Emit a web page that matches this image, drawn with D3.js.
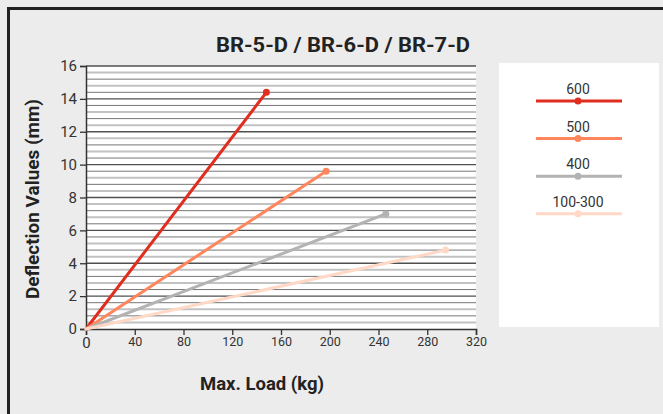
<!DOCTYPE html>
<html><head><meta charset="utf-8">
<script src="https://cdn.jsdelivr.net/npm/d3@7"></script>
<style>
html,body{margin:0;padding:0;background:#ebeceb;}
svg{display:block;font-family:Roboto, "Noto Sans", sans-serif;}
</style></head>
<body><svg id="c" width="663" height="414"></svg>
<script>
const seriesNames = ["600", "500", "400", "100-300"];
const seriesColors = ["#e02d1e", "#ff865c", "#b3b3b3", "#ffd8c6"];
const loads = [[0, 148], [0, 197], [0, 246], [0, 295]];
const deflections = [[0, 14.4], [0, 9.6], [0, 7.0], [0, 4.8]];
const xTicks = [0, 40, 80, 120, 160, 200, 240, 280, 320];
const yTicks = [0, 2, 4, 6, 8, 10, 12, 14, 16];
const titleText = "BR-5-D / BR-6-D / BR-7-D";
const xTitle = "Max. Load (kg)";
const yTitle = "Deflection Values (mm)";

const svg = d3.select("#c");
// frame
svg.append("rect").attr("x",7).attr("y",7).attr("width",663).attr("height",3).attr("fill","#222");
svg.append("rect").attr("x",7).attr("y",7).attr("width",3).attr("height",414).attr("fill","#222");

const L = 86, R = 476, T = 66, B = 329;
const x = d3.scaleLinear().domain([0,320]).range([L,R]);
const y = d3.scaleLinear().domain([0,16]).range([B,T]);

svg.append("rect").attr("x",L).attr("y",T).attr("width",R-L).attr("height",B-T).attr("fill","#fff");

// gridlines every 0.4
const grid = d3.range(1, 41).map(i => ({i, v: i*0.4}));
svg.append("g").selectAll("line").data(grid).join("line")
  .attr("x1",L).attr("x2",R)
  .attr("y1",d=>y(d.v)).attr("y2",d=>y(d.v))
  .attr("stroke",d=> d.i%5===0 ? "#505050" : (d.i%2 ? "#c2c2c2" : "#777"))
  .attr("stroke-width",d=> d.i%5===0 ? 1.3 : (d.i%2 ? 2 : 1));

// axes
const ya = svg.append("g").attr("transform",`translate(${L},0)`)
  .call(d3.axisLeft(y).tickValues(yTicks).tickSize(6).tickPadding(3));
ya.select(".domain").attr("stroke","#333").attr("stroke-width",1.5);
ya.selectAll(".tick line").attr("stroke","#333").attr("stroke-width",1.3);
ya.selectAll("text").attr("font-size",15).attr("fill","#333").attr("font-family","Roboto");

const xa = svg.append("g").attr("transform",`translate(0,${B})`)
  .call(d3.axisBottom(x).tickValues(xTicks).tickSize(6).tickPadding(2));
xa.select(".domain").attr("stroke","#333").attr("stroke-width",1.5);
xa.selectAll(".tick line").attr("stroke","#333").attr("stroke-width",1.3);
xa.selectAll("text").attr("font-size",d=>d===0?15:12.5).attr("fill","#333").attr("font-family","Roboto");

// lines
const line = d3.line().x(d=>x(d[0])).y(d=>y(d[1]));
seriesNames.forEach((n, k) => {
  const pts = loads[k].map((l, j) => [l, deflections[k][j]]);
  svg.append("path").datum(pts).attr("d", line).attr("fill","none")
    .attr("stroke", seriesColors[k]).attr("stroke-width",3).attr("stroke-linecap","round");
  const last = pts[pts.length-1];
  svg.append("circle").attr("cx",x(last[0])).attr("cy",y(last[1])).attr("r",3.5).attr("fill",seriesColors[k]);
});

// title
svg.append("text").attr("x",343).attr("y",52).attr("text-anchor","middle")
  .attr("font-size",20).attr("font-weight","bold").attr("fill","#222")
  .attr("textLength",254).attr("lengthAdjust","spacingAndGlyphs").text(titleText);
svg.append("text").attr("x",262).attr("y",390).attr("text-anchor","middle")
  .attr("font-size",18).attr("font-weight","bold").attr("fill","#222")
  .attr("textLength",124).attr("lengthAdjust","spacingAndGlyphs").text(xTitle);
svg.append("text").attr("transform","translate(39,199) rotate(-90)").attr("text-anchor","middle")
  .attr("font-size",17.5).attr("font-weight","bold").attr("fill","#222")
  .attr("textLength",200).attr("lengthAdjust","spacingAndGlyphs").text(yTitle);

// legend
svg.append("rect").attr("x",499).attr("y",63).attr("width",160).attr("height",264).attr("fill","#fff");
const lg = svg.append("g").selectAll("g").data(seriesNames).join("g")
  .attr("transform",(d,i)=>`translate(0,${101 + i*37.6})`);
lg.append("text").attr("x",578).attr("y",-7).attr("text-anchor","middle")
  .attr("font-size",14).attr("fill","#333").text(d=>d);
lg.append("line").attr("x1",536).attr("x2",622).attr("y1",0).attr("y2",0)
  .attr("stroke",(d,i)=>seriesColors[i]).attr("stroke-width",3);
lg.append("circle").attr("cx",578).attr("cy",0).attr("r",3.5).attr("fill",(d,i)=>seriesColors[i]);
</script></body></html>
